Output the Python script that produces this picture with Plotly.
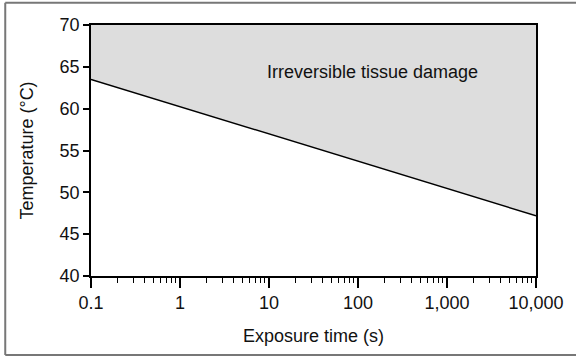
import math
import plotly.graph_objects as go

# Data
exposure_time = [0.1, 10000]
threshold_temp = [63.5, 47.2]
upper_temp = [70, 70]
x_tickvals = [0.1, 1, 10, 100, 1000, 10000]
x_ticktext = ["0.1", "1", "10", "100", "1,000", "10,000"]
y_tickvals = [40, 45, 50, 55, 60, 65, 70]
region_label = "Irreversible tissue damage"
label_time = 144
label_temp = 64.4

FONT = "Liberation Sans, Arial, Helvetica, sans-serif"

fig = go.Figure()
fig.add_trace(go.Scatter(x=exposure_time, y=threshold_temp, mode="lines",
                         line=dict(color="rgba(0,0,0,0)", width=0), showlegend=False,
                         hoverinfo="skip"))
fig.add_trace(go.Scatter(x=exposure_time, y=upper_temp, mode="lines", fill="tonexty",
                         fillcolor="#dddddd", line=dict(color="rgba(0,0,0,0)", width=0),
                         showlegend=False, hoverinfo="skip"))
fig.add_trace(go.Scatter(x=exposure_time, y=threshold_temp, mode="lines",
                         line=dict(color="black", width=1.5), showlegend=False))

# annotations on a log axis take log10 positions
fig.add_annotation(x=math.log10(label_time), y=label_temp, xref="x", yref="y",
                   xanchor="center", yanchor="middle",
                   text=region_label, showarrow=False,
                   font=dict(family=FONT, size=18, color="#111111"))

fig.update_layout(
    width=576, height=356,
    margin=dict(l=91, r=36, t=25, b=80),
    paper_bgcolor="white", plot_bgcolor="white",
    font=dict(family=FONT, size=18, color="#111111"),
    showlegend=False,
)

fig.update_xaxes(
    type="log", range=[-1, 4],
    tickvals=x_tickvals, ticktext=x_ticktext,
    ticks="outside", ticklen=10, tickwidth=1.5, tickcolor="black",
    showline=True, linecolor="black", linewidth=1.5, mirror=True,
    showgrid=False, zeroline=False,
    minor=dict(ticks="outside", ticklen=5, tickwidth=1.2, tickcolor="black",
               dtick="D1", showgrid=False),
    title=dict(text="Exposure time (s)", font=dict(size=18), standoff=17),
    tickfont=dict(size=18),
)
fig.update_yaxes(
    range=[40, 70], tickvals=y_tickvals,
    ticks="outside", ticklen=6, tickwidth=1.5, tickcolor="black",
    showline=True, linecolor="black", linewidth=1.5, mirror=True,
    showgrid=False, zeroline=False,
    title=dict(text="Temperature (°C)", font=dict(size=18), standoff=21),
    tickfont=dict(size=18),
)

# outer frame: left, top and bottom edges (right edge lies outside the picture)
fx0, fx1, fy0, fy1 = -0.1927, 1.2, -0.3147, 1.0886
frame_line = dict(color="#777777", width=2)
for x0, y0, x1, y1 in [(fx0, fy0, fx0, fy1), (fx0, fy1, fx1, fy1), (fx0, fy0, fx1, fy0)]:
    fig.add_shape(type="line", xref="paper", yref="paper",
                  x0=x0, y0=y0, x1=x1, y1=y1, line=frame_line, layer="below")

fig.write_html("out.html")
